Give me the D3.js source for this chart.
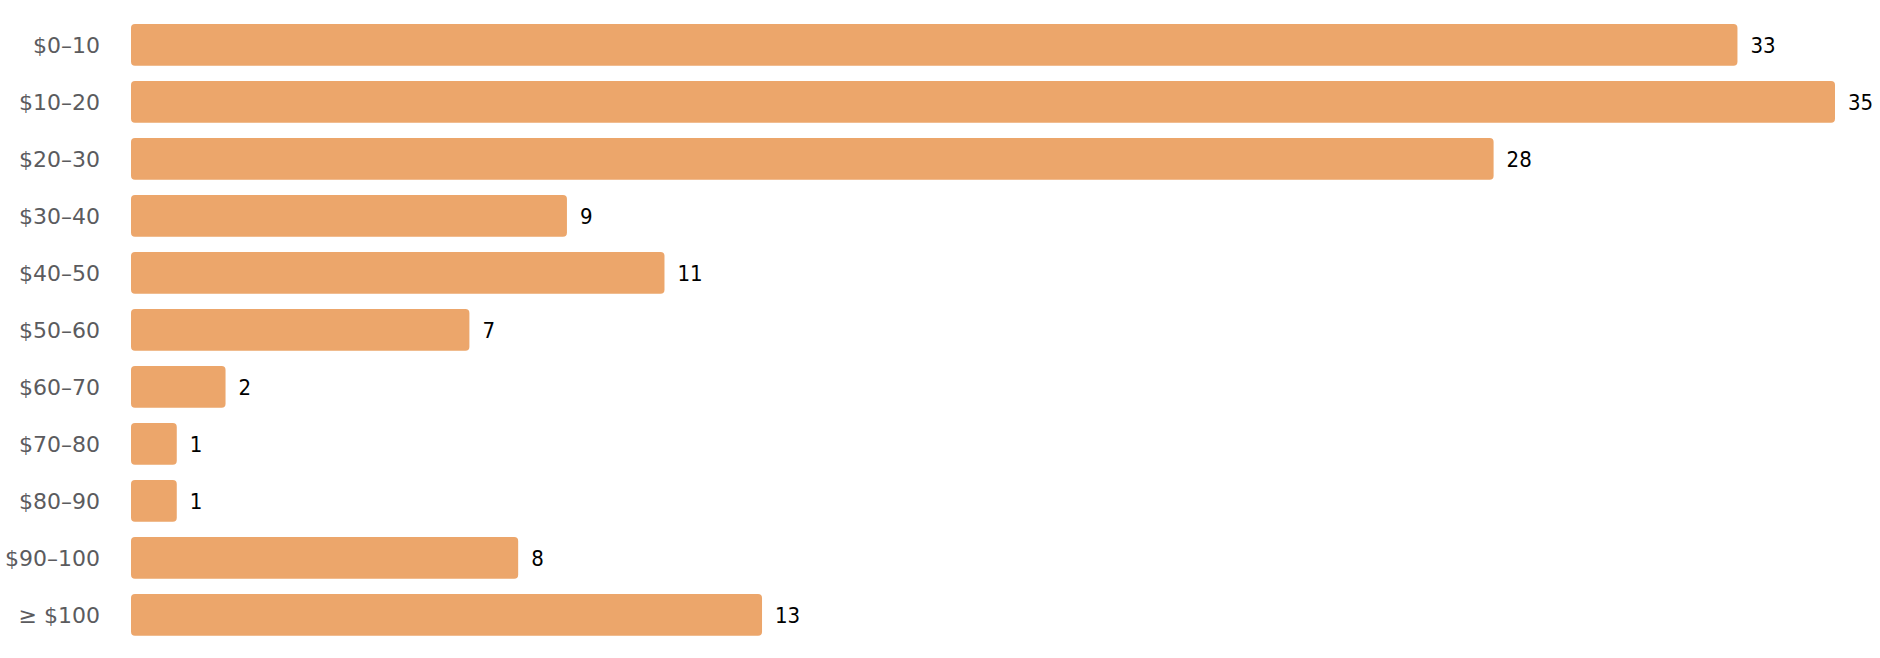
<!DOCTYPE html>
<html>
<head>
<meta charset="utf-8">
<script src="https://cdn.jsdelivr.net/npm/d3@7"></script>
<style>
  html, body { margin: 0; padding: 0; background: #fff; }
  svg { display: block; }
</style>
</head>
<body>
<svg id="chart" width="1880" height="658"></svg>
<script>
const categories = ["$0–10", "$10–20", "$20–30", "$30–40", "$40–50", "$50–60", "$60–70", "$70–80", "$80–90", "$90–100", "≥ $100"];
const values = [33, 35, 28, 9, 11, 7, 2, 1, 1, 8, 13];

const data = categories.map((c, i) => ({ c, v: values[i] }));

const svg = d3.select("#chart");
const barStart = 131;

const x = d3.scaleLinear().domain([0, 35]).range([128, 1835]);
const y = d3.scaleBand().domain(categories).range([24, 635.7]).paddingInner(0.2684).paddingOuter(0);

svg.append("g").selectAll("rect").data(data).join("rect")
  .attr("x", barStart)
  .attr("y", d => y(d.c))
  .attr("width", d => x(d.v) - barStart)
  .attr("height", y.bandwidth())
  .attr("rx", 4).attr("ry", 4)
  .attr("fill", "#eca66b");

const yAxis = d3.axisLeft(y).tickSize(0).tickPadding(0);
const ag = svg.append("g").attr("transform", "translate(100,0)").call(yAxis);
ag.select(".domain").remove();
ag.selectAll("text")
  .attr("font-family", "'DejaVu Sans', sans-serif")
  .attr("font-size", 22)
  .attr("fill", "#5b5b5e")
  .attr("dy", "0.38em");

svg.append("g").selectAll("text").data(data).join("text")
  .attr("x", d => x(d.v) + 13)
  .attr("y", d => y(d.c) + y.bandwidth() / 2)
  .attr("dy", "0.38em")
  .attr("font-family", "'DejaVu Sans Condensed', 'DejaVu Sans', sans-serif")
  .attr("font-size", 22)
  .attr("fill", "#000")
  .text(d => d.v);
</script>
</body>
</html>
